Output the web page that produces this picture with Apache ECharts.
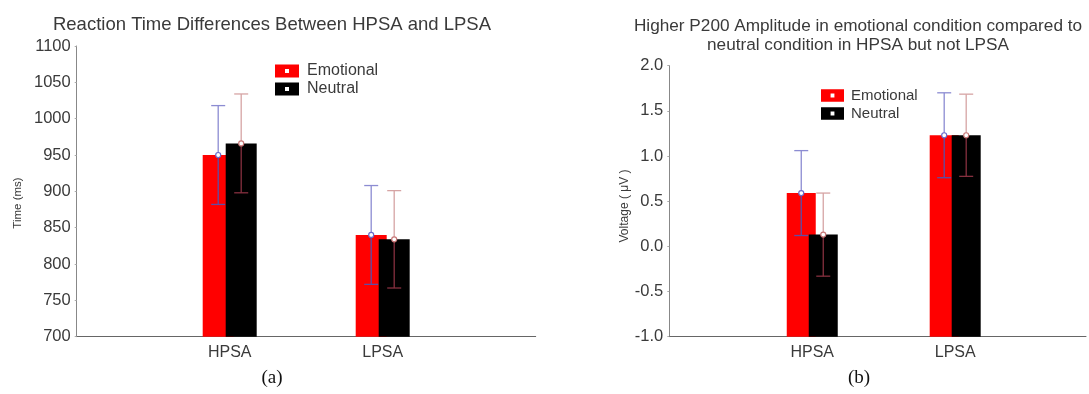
<!DOCTYPE html>
<html>
<head>
<meta charset="utf-8">
<script src="https://cdn.jsdelivr.net/npm/echarts@6/dist/echarts.min.js"></script>
<style>
  html, body { margin: 0; padding: 0; background: #fff; }
  #chart { width: 1089px; height: 394px; }
</style>
</head>
<body>
<div id="chart"></div>
<script>
// categories sit at x = 1 and x = 2, axis runs from 0 to 3 like the original plot
const categories = ["HPSA", "LPSA"];

// (a) reaction time in ms, mean and error
const rtEmotional = [950, 840];
const rtEmotionalErr = [68, 68];
const rtNeutral = [966, 834];
const rtNeutralErr = [68, 67];
const rtAxis = { min: 700, max: 1100, step: 50 };

// (b) P200 amplitude in µV, mean and error
const p200Emotional = [0.59, 1.23];
const p200EmotionalErr = [0.47, 0.47];
const p200Neutral = [0.13, 1.23];
const p200NeutralErr = [0.46, 0.455];
const p200Axis = { min: -1, max: 2, step: 0.5 };

const font = "Liberation Sans, Arial, sans-serif";
const textColor = "#3a3a3a";

// bar drawn from axis bottom up to value, with error bar on top
function barWithError(base, offset, width, fill, upColor, lowColor, dotColor) {
  return function (params, api) {
    const x = api.value(0);
    const v = api.value(1);
    const e = api.value(2);
    const top = api.coord([x, v]);
    const bottom = api.coord([x, base]);
    const hi = api.coord([x, v + e]);
    const lo = api.coord([x, v - e]);
    const cx = top[0] + offset;
    const cap = 7;
    const lw = 1.3;
    return {
      type: "group",
      children: [
        { type: "rect", shape: { x: cx - width / 2, y: top[1], width: width, height: bottom[1] - top[1] }, style: { fill: fill } },
        { type: "line", shape: { x1: cx, y1: hi[1], x2: cx, y2: top[1] }, style: { stroke: upColor, lineWidth: lw } },
        { type: "line", shape: { x1: cx - cap, y1: hi[1], x2: cx + cap, y2: hi[1] }, style: { stroke: upColor, lineWidth: lw } },
        { type: "line", shape: { x1: cx, y1: top[1], x2: cx, y2: lo[1] }, style: { stroke: lowColor, lineWidth: lw } },
        { type: "line", shape: { x1: cx - cap, y1: lo[1], x2: cx + cap, y2: lo[1] }, style: { stroke: lowColor, lineWidth: lw } },
        { type: "circle", shape: { cx: cx, cy: top[1], r: 2.5 }, style: { fill: "#fff", stroke: dotColor, lineWidth: 1.2 } }
      ]
    };
  };
}

function rows(vals, errs) {
  return vals.map((v, i) => [i + 1, v, errs[i]]);
}

// legend swatch with a small hole in the middle
const swatch = "path://M0,0H24V13H0Z M10,4.5V8.5H14V4.5Z";

function xAxisFor(gridIndex, max) {
  return {
    gridIndex: gridIndex,
    type: "value",
    min: 0,
    max: max,
    interval: 1,
    axisLine: { onZero: false, lineStyle: { color: "#666", width: 1 } },
    axisTick: { show: false },
    axisLabel: {
      color: textColor, fontSize: 16, fontFamily: font, margin: 8,
      showMinLabel: true, showMaxLabel: true,
      formatter: v => categories[v - 1] || ""
    },
    splitLine: { show: false }
  };
}

function yAxisFor(gridIndex, ax, digits) {
  return {
    gridIndex: gridIndex,
    type: "value",
    min: ax.min,
    max: ax.max,
    interval: ax.step,
    axisLine: { show: true, onZero: false, lineStyle: { color: "#888", width: 1 } },
    axisTick: { show: true, length: 2, lineStyle: { color: "#aaa" } },
    axisLabel: { color: textColor, fontSize: 16.5, fontFamily: font, margin: 6,
      formatter: v => digits ? v.toFixed(digits) : String(v) },
    splitLine: { show: false }
  };
}

let chart = echarts.init(document.getElementById("chart"));

let option = {
  animation: false,
  backgroundColor: "#fff",
  grid: [
    { left: 76.7, top: 46, width: 459, height: 290.7 },
    { left: 669.3, top: 65.7, width: 419.7, height: 271 }
  ],
  // right plot is cut by the picture edge, so its axis stops before x = 3
  xAxis: [xAxisFor(0, 3), xAxisFor(1, 2.915)],
  yAxis: [
    yAxisFor(0, rtAxis, 0),
    yAxisFor(1, p200Axis, 1)
  ],
  legend: [
    {
      left: 275, top: 63, padding: 0, orient: "vertical", itemWidth: 24, itemHeight: 13, itemGap: 2,
      icon: swatch, data: ["Emotional", "Neutral"],
      textStyle: { color: textColor, fontSize: 16, fontFamily: font, padding: [0, 0, 0, 3] }
    },
    {
      left: 821, top: 88, padding: 0, orient: "vertical", itemWidth: 23, itemHeight: 13, itemGap: 3,
      icon: swatch, data: ["Emotional", "Neutral"],
      textStyle: { color: textColor, fontSize: 15, fontFamily: font, padding: [0, 0, 0, 2] }
    }
  ],
  graphic: [
    { type: "text", x: 272, y: 25, style: { text: "Reaction Time Differences Between HPSA and LPSA", align: "center", verticalAlign: "middle", font: "18.5px " + font, fill: textColor } },
    { type: "text", x: 858, y: 26, style: { text: "Higher P200 Amplitude in emotional condition compared to", align: "center", verticalAlign: "middle", font: "17.2px " + font, fill: textColor } },
    { type: "text", x: 858, y: 45, style: { text: "neutral condition in HPSA but not LPSA", align: "center", verticalAlign: "middle", font: "17.2px " + font, fill: textColor } },
    { type: "text", x: 18, y: 203, rotation: Math.PI / 2, style: { text: "Time (ms)", align: "center", verticalAlign: "middle", font: "11.5px " + font, fill: textColor } },
    { type: "text", x: 625, y: 206, rotation: Math.PI / 2, style: { text: "Voltage ( μV )", align: "center", verticalAlign: "middle", font: "12px " + font, fill: textColor } },
    { type: "text", x: 272, y: 378, style: { text: "(a)", align: "center", verticalAlign: "middle", font: "19px Liberation Serif, serif", fill: "#111" } },
    { type: "text", x: 859, y: 378, style: { text: "(b)", align: "center", verticalAlign: "middle", font: "19px Liberation Serif, serif", fill: "#111" } }
  ],
  series: [
    {
      name: "Emotional", type: "custom", xAxisIndex: 0, yAxisIndex: 0,
      itemStyle: { color: "#ff0000" },
      encode: { x: 0, y: 1 },
      data: rows(rtEmotional, rtEmotionalErr),
      renderItem: barWithError(rtAxis.min, -11.5, 31, "#ff0000", "#8c8cd2", "#5b4fa6", "#6a6ac8")
    },
    {
      name: "Neutral", type: "custom", xAxisIndex: 0, yAxisIndex: 0,
      itemStyle: { color: "#000000" },
      encode: { x: 0, y: 1 },
      data: rows(rtNeutral, rtNeutralErr),
      renderItem: barWithError(rtAxis.min, 11.5, 31, "#000000", "#d6a4a4", "#86303f", "#c87878")
    },
    {
      name: "Emotional", type: "custom", xAxisIndex: 1, yAxisIndex: 1,
      itemStyle: { color: "#ff0000" },
      encode: { x: 0, y: 1 },
      data: rows(p200Emotional, p200EmotionalErr),
      renderItem: barWithError(p200Axis.min, -11, 29, "#ff0000", "#8c8cd2", "#5b4fa6", "#6a6ac8")
    },
    {
      name: "Neutral", type: "custom", xAxisIndex: 1, yAxisIndex: 1,
      itemStyle: { color: "#000000" },
      encode: { x: 0, y: 1 },
      data: rows(p200Neutral, p200NeutralErr),
      renderItem: barWithError(p200Axis.min, 11, 29, "#000000", "#d6a4a4", "#86303f", "#c87878")
    }
  ]
};

chart.setOption(option);
window.addEventListener("resize", () => {
  chart.resize();
});
</script>
</body>
</html>
